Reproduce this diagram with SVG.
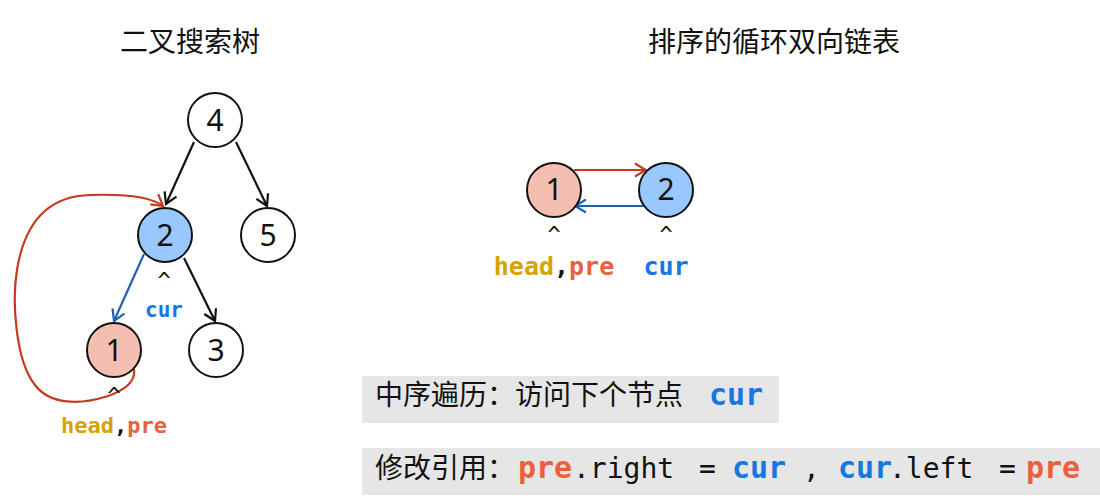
<svg xmlns="http://www.w3.org/2000/svg" width="1100" height="498" viewBox="0 0 1100 498">
<defs>
<style>
.title{font-family:"Noto Sans CJK SC","Noto Sans",sans-serif;font-size:28px;fill:#111;text-anchor:middle}
.node circle{stroke:#111;stroke-width:2}
.num{font-family:"Noto Sans","DejaVu Sans",sans-serif;font-size:30px;fill:#111;text-anchor:middle}
.caret{font-family:"DejaVu Sans Mono",monospace;font-size:22px;fill:#111;text-anchor:middle}
.mono{font-family:"DejaVu Sans Mono","Liberation Mono",monospace;font-weight:bold}
.reg{font-family:"DejaVu Sans Mono","Liberation Mono",monospace;font-weight:normal;fill:#111}
.cjk{font-family:"Noto Sans CJK SC","Noto Sans",sans-serif;font-size:28px;fill:#111}
.head{fill:#D6A300}
.pre{fill:#E8603C}
.cur{fill:#1577E0}
.blk{fill:#111}
.w{fill:#fff}
.pink{fill:#F4BFB0}
.blue{fill:#99C8FF}
.edge{fill:none;stroke-width:2.2}
.k{stroke:#111}
.r{stroke:#C43B1E}
.b{stroke:#1E62B0}
.box{fill:#E6E6E6}
</style>
<marker id="ak" markerUnits="userSpaceOnUse" markerWidth="16" markerHeight="16" viewBox="0 0 16 16" refX="14" refY="8" orient="auto"><path d="M3,1.5 L14,8 L3,14.5" fill="none" stroke="#111" stroke-width="2.2"/></marker>
<marker id="ar" markerUnits="userSpaceOnUse" markerWidth="16" markerHeight="16" viewBox="0 0 16 16" refX="14" refY="8" orient="auto"><path d="M3,1.5 L14,8 L3,14.5" fill="none" stroke="#C43B1E" stroke-width="2.2"/></marker>
<marker id="ab" markerUnits="userSpaceOnUse" markerWidth="16" markerHeight="16" viewBox="0 0 16 16" refX="14" refY="8" orient="auto"><path d="M3,1.5 L14,8 L3,14.5" fill="none" stroke="#1E62B0" stroke-width="2.2"/></marker>
</defs>
<rect width="1100" height="498" fill="#fff"/>
<text class="title" x="190" y="52">二叉搜索树</text>
<text class="title" x="774" y="52">排序的循环双向链表</text>

<g id="connectors">
<path class="edge k" d="M194,142 L166,204" marker-end="url(#ak)"/>
<path class="edge k" d="M236,142 L267,206" marker-end="url(#ak)"/>
<path class="edge b" d="M144,254 L114,321" marker-end="url(#ab)"/>
<path class="edge k" d="M184,258 L215,321" marker-end="url(#ak)"/>
<path class="edge r" d="M134,369 C136,382 125,390 108,396 C80,405 50,405 35,385 C15,360 12,300 17,270 C25,220 50,196 90,195 C120,194 150,196 163,206" marker-end="url(#ar)"/>
<path class="edge r" d="M574,170 L646,170" marker-end="url(#ar)"/>
<path class="edge b" d="M645,206 L575,206" marker-end="url(#ab)"/>
</g>

<g id="t4" class="node"><circle cx="215" cy="120" r="27" class="w"/><text class="num" x="215" y="131">4</text></g>
<g id="t2" class="node"><circle cx="165" cy="235" r="27" class="blue"/><text class="num" x="165" y="246">2</text></g>
<g id="t5" class="node"><circle cx="268" cy="235" r="27" class="w"/><text class="num" x="268" y="246">5</text></g>
<g id="t1" class="node"><circle cx="114" cy="350" r="27" class="pink"/><text class="num" x="114" y="361">1</text></g>
<g id="t3" class="node"><circle cx="216" cy="350" r="27" class="w"/><text class="num" x="216" y="361">3</text></g>

<g id="l1" class="node"><circle cx="554" cy="190" r="27" class="pink"/><text class="num" x="554" y="200">1</text></g>
<g id="l2" class="node"><circle cx="666" cy="190" r="27" class="blue"/><text class="num" x="666" y="200">2</text></g>

<g id="labels">
<text class="caret" x="164" y="288">^</text>
<text class="mono cur" x="164" y="317" font-size="21" text-anchor="middle">cur</text>
<text class="caret" x="114" y="403">^</text>
<text class="mono" x="114" y="433" font-size="22" text-anchor="middle"><tspan class="head">head</tspan><tspan class="blk">,</tspan><tspan class="pre">pre</tspan></text>
<text class="caret" x="554" y="242">^</text>
<text class="caret" x="666" y="242">^</text>
<text class="mono" x="554" y="275" font-size="25" text-anchor="middle"><tspan class="head">head</tspan><tspan class="blk">,</tspan><tspan class="pre">pre</tspan></text>
<text class="mono cur" x="666" y="275" font-size="25" text-anchor="middle">cur</text>
</g>

<g id="step1">
<rect class="box" x="362" y="376" width="417" height="47"/>
<text class="cjk" x="375" y="405">中序遍历：访问下个节点</text>
<text class="mono cur" x="709" y="405" font-size="30">cur</text>
</g>
<g id="step2">
<rect class="box" x="362" y="448" width="738" height="47"/>
<text class="cjk" x="375" y="478">修改引用：</text>
<text class="mono pre" x="518" y="478" font-size="30">pre</text>
<text class="reg" x="573" y="478" font-size="28">.right</text>
<text class="reg" x="699" y="478" font-size="28">=</text>
<text class="mono cur" x="732" y="478" font-size="30">cur</text>
<text class="reg" x="803" y="478" font-size="28">,</text>
<text class="mono cur" x="838" y="478" font-size="30">cur</text>
<text class="reg" x="889" y="478" font-size="28">.left</text>
<text class="reg" x="999" y="478" font-size="28">=</text>
<text class="mono pre" x="1026" y="478" font-size="30">pre</text>
</g>
</svg>
